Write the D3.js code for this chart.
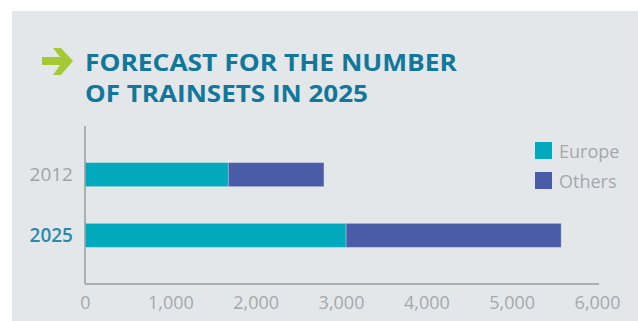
<!DOCTYPE html>
<html>
<head>
<meta charset="utf-8">
<script src="https://cdn.jsdelivr.net/npm/d3@7"></script>
<style>
  body { margin: 0; background: #fff; }
  svg { display: block; }
</style>
</head>
<body>
<svg id="chart"></svg>
<script>
var years = ["2012", "2025"]
var europe = [1680, 3060]
var others = [1120, 2520]
var seriesNames = ["Europe", "Others"]
var xTicks = [0, 1000, 2000, 3000, 4000, 5000, 6000]

var width = 638, height = 321
var colors = { Europe: "#00a9bc", Others: "#4a5ba8" }

var svg = d3.select("svg#chart")
    .attr("width", width)
    .attr("height", height)

// panel
svg.append("rect")
    .attr("x", 12).attr("y", 11)
    .attr("width", width - 12).attr("height", height - 11)
    .attr("fill", "#e4e7ea")

// arrow
svg.append("path")
    .attr("d", "M42,57 L60,57 L53,48 L61,48 L73,61 L61,75 L53,75 L60,65 L42,65 Z")
    .attr("fill", "#a5c935")

// title
var title = ["FORECAST FOR THE NUMBER", "OF TRAINSETS IN 2025"]
var titleLen = [372, 283]
title.forEach(function(t, i) {
    svg.append("text")
        .attr("x", 85)
        .attr("y", 71 + i * 31)
        .attr("font-family", "Open Sans")
        .attr("font-weight", "bold")
        .attr("font-size", "24px")
        .attr("fill", "#11789c")
        .attr("textLength", titleLen[i])
        .attr("lengthAdjust", "spacingAndGlyphs")
        .text(t)
})

var xScale = d3.scaleLinear().domain([0, 6000]).range([85, 597])
var yScale = d3.scalePoint().domain(years).range([126, 284]).padding(0.8)

var data = years.map(function(y, i) {
    return { year: y, Europe: europe[i], Others: others[i] }
})
var stacked = d3.stack().keys(seriesNames)(data)

var barH = 24
svg.append("g").selectAll("g")
    .data(stacked)
    .enter()
    .append("g")
    .attr("fill", function(d) { return colors[d.key] })
    .selectAll("rect")
    .data(function(d) { return d })
    .enter()
    .append("rect")
    .attr("x", function(d) { return xScale(d[0]) })
    .attr("y", function(d) { return yScale(d.data.year) - barH / 2 })
    .attr("width", function(d) { return xScale(d[1]) - xScale(d[0]) })
    .attr("height", barH)
    .attr("stroke", "rgba(255,255,255,0.25)")
    .attr("stroke-width", 1)

// axes lines
svg.append("line")
    .attr("x1", 85).attr("x2", 85)
    .attr("y1", 126).attr("y2", 284)
    .attr("stroke", "#9a9c9e").attr("stroke-width", 1.5)
svg.append("line")
    .attr("x1", 85).attr("x2", 599)
    .attr("y1", 284).attr("y2", 284)
    .attr("stroke", "#9a9c9e").attr("stroke-width", 1.5)

// x tick labels
var xAxis = svg.append("g")
    .attr("transform", "translate(0,284)")
    .call(d3.axisBottom(xScale).tickValues(xTicks).tickSize(0).tickPadding(12).tickFormat(d3.format(",")))
xAxis.select(".domain").remove()
xAxis.selectAll("text")
    .attr("font-family", "Open Sans")
    .attr("font-size", "18px")
    .attr("fill", "#a6a8aa")

// y labels
var yAxis = svg.append("g")
    .attr("transform", "translate(85,0)")
    .call(d3.axisLeft(yScale).tickSize(0).tickPadding(12))
yAxis.select(".domain").remove()
yAxis.selectAll("text")
    .attr("font-family", "Open Sans")
    .attr("font-size", "19px")
    .attr("fill", function(d) { return d == "2025" ? "#2a8aa8" : "#a0a2a4" })
    .attr("font-weight", function(d) { return d == "2025" ? "600" : "normal" })

// legend
var legend = svg.append("g")
    .selectAll("g")
    .data(seriesNames)
    .enter()
    .append("g")
    .attr("transform", function(d, i) { return "translate(535," + (142 + i * 30) + ")" })
legend.append("rect")
    .attr("width", 17).attr("height", 17)
    .attr("fill", function(d) { return colors[d] })
legend.append("text")
    .attr("x", 24).attr("y", 16)
    .attr("font-family", "Open Sans")
    .attr("font-size", "18px")
    .attr("fill", "#a6a8aa")
    .text(function(d) { return d })
</script>
</body>
</html>
